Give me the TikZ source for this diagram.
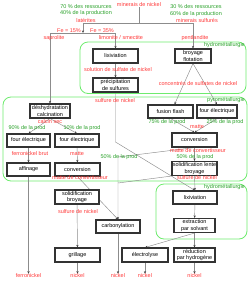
\documentclass[tikz,border=0pt]{standalone}
\usepackage{fontspec}
\setmainfont{Liberation Sans}
\usetikzlibrary{arrows.meta}
\definecolor{lred}{RGB}{255,55,55}
\definecolor{lgreen}{RGB}{40,160,40}
\definecolor{bgreen}{RGB}{110,235,110}
\definecolor{cgray}{RGB}{140,140,140}
\pgfdeclarelayer{background}
\pgfsetlayers{background,main}
\begin{document}
\begin{tikzpicture}[x=1pt,y=-1pt,
  every node/.style={font=\fontsize{5.5}{6.8}\selectfont, inner sep=0pt},
  box/.style={draw=black!80, line width=1.1pt, fill=white, align=center, minimum height=13pt},
  rl/.style={text=lred},
  gl/.style={text=lgreen},
  conn/.style={draw=cgray, line width=0.45pt},
  arr/.style={conn, -{Stealth[length=2.6pt,width=2.2pt,color=black!75]}},
  zone/.style={draw=bgreen, line width=0.8pt, rounded corners=8pt}]
\useasboundingbox (0,0) rectangle (250,282);

% top texts
\node[rl] (mn) at (139,5) {minerais de nickel};
\node[gl] (g70) at (86,6.5) {70 \% des ressources};
\node[gl] (g40) at (86,13.5) {40\% de la production};
\node[rl] (lat) at (86,20) {latérites};
\node[gl] (g30) at (196,7) {30 \% des ressources};
\node[gl] (g60) at (196,14) {60\% de la production};
\node[rl] (ms) at (197,20.5) {minerais sulfurés};
\node[rl] (fe15) at (69,30.5) {Fe = 15\%};
\node[rl] (fe35) at (102,30.5) {Fe = 35\%};
\node[rl] (sap) at (54,38) {saprolite};
\node[rl] (lim) at (121,38) {limonite / smectite};
\node[rl] (pen) at (195,38) {pentlandite};

% zone labels
\node[gl, anchor=east] (zh1) at (245,45.5) {hydrométallurgie};
\node[gl, anchor=east] (zp) at (245,100.5) {pyrométallurgie};
\node[gl, anchor=east] (zh2) at (245,187) {hydrométallurgie};

% boxes
\node[box, minimum width=45pt, minimum height=14pt] (lix1) at (115.5,56) {lixiviation};
\node[box, minimum width=36pt, minimum height=14pt] (broy) at (193,56) {broyage\\flotation};
\node[box, minimum width=45pt, minimum height=14pt] (prec) at (115.5,85) {précipitation\\de sulfures};
\node[box, minimum width=40pt, minimum height=14pt] (desh) at (50,111) {déshydratation\\calcination};
\node[box, minimum width=43pt] (f1) at (28.5,140.5) {four électrique};
\node[box, minimum width=44pt] (f2) at (77,140.5) {four électrique};
\node[box, minimum width=43pt] (aff) at (28.5,169.5) {affinage};
\node[box, minimum width=45pt] (cvL) at (77.5,169.5) {conversion};
\node[box, minimum width=45pt] (ff) at (170.5,111.5) {fusion flash};
\node[box, minimum width=40pt] (f3) at (217,111.5) {four électrique};
\node[box, minimum width=45pt, minimum height=14pt] (cvR) at (194.5,140) {conversion};
\node[box, minimum width=45pt, minimum height=14pt] (sl) at (194.5,168.5) {solidification lente\\broyage};
\node[box, minimum width=44pt, minimum height=14pt] (sol) at (77,197) {solidification\\broyage};
\node[box, minimum width=44pt] (carb) at (118,226.5) {carbonylation};
\node[box, minimum width=44pt] (lix2) at (195,197.5) {lixiviation};
\node[box, minimum width=41pt, minimum height=14pt] (ext) at (194.5,225.5) {extraction\\par solvant};
\node[box, minimum width=45pt, minimum height=14pt] (gril) at (77.5,255) {grillage};
\node[box, minimum width=46pt, minimum height=14pt] (elec) at (145,255) {électrolyse};
\node[box, minimum width=41pt, minimum height=14pt] (red) at (194.5,255) {réduction\\par hydrogène};

% labels on flows
\node[rl] (l1) at (118,70) {solution de sulfate de nickel};
\node[rl] (l2) at (198,83) {concentrés de sulfates de nickel};
\node[rl] (l3) at (115,101) {sulfure de nickel};
\node[rl] (l4) at (50,122) {calcin sec};
\node[gl] (p90) at (27,128) {90\% de la prod};
\node[gl] (p10) at (82,128) {10\% de la prod};
\node[rl] (l5) at (30,154) {ferronickel brut};
\node[rl] (l6) at (77,154) {matte};
\node[rl] (l7) at (80,178) {matte de convertisseur};
\node[gl] (p75) at (167,122) {75\% de la prod};
\node[gl] (p25) at (225,122) {25\% de la prod};
\node[rl] (l8) at (197,127) {matte};
\node[rl] (l9) at (198,151) {matte de convertisseur};
\node[gl] (p50a) at (195,157.5) {50\% de la prod};
\node[gl] (p50b) at (119,157.5) {50\% de la prod};
\node[rl] (l10) at (197,178) {sulfure de nickel};
\node[rl] (l11) at (78,212) {sulfure de nickel};

% outputs
\node[rl] (o1) at (28.5,276) {ferronickel};
\node[rl] (o2) at (77.5,276) {nickel};
\node[rl] (o3) at (118,276) {nickel};
\node[rl] (o4) at (145,276) {nickel};
\node[rl] (o5) at (194.5,276) {nickel};

% junctions
\coordinate (jT) at (139,23);
\coordinate (jL) at (83,23);
\coordinate (jR) at (193,23);
\coordinate (jL2) at (83,33);
\coordinate (jA) at (50,33);
\coordinate (jB) at (115.5,33);
\coordinate (pk) at (115.5,142);
\coordinate (ck) at (118,157);
\coordinate (ck2) at (118,183);

\begin{pgfonlayer}{background}
\draw[zone] (80,42) rectangle (246,93.5);
\draw[zone] (3,97) rectangle (247,181);
\draw[zone] (156,184) rectangle (247,239);

\draw[conn] (mn.south) -- (jT);
\draw[conn] (jL) -- (jR);
\draw[arr] (jL) -- (jL2);
\draw[conn] (jA) -- (jB);
\draw[arr] (jA) -- (desh.north);
\draw[arr] (jB) -- (lix1.north);
\draw[arr] (jR) -- (broy.north);
\draw[arr] (lix1) -- (prec);
\draw[arr] (prec.south) -- (pk) -- (lix2.north);
\draw[arr] (broy.south) -- ([xshift=4pt]ff.north);
\draw[arr] (broy.south) -- (f3.north);
\draw[arr] (desh.south) -- (f1.north);
\draw[arr] (desh.south) -- (f2.north);
\draw[arr] (f1) -- (aff);
\draw[arr] (f2) -- (cvL);
\draw[arr] (aff.south) -- (o1.north);
\draw[arr] (cvL.south) -- (carb.north);
\draw[arr] (ff.south) -- (cvR.north);
\draw[arr] (f3.south) -- (cvR.north);
\draw[arr] (cvR) -- (sl);
\draw[arr] (cvR.south) -- (ck) -- (carb.north);
\draw[conn] (sl.south west) -- (ck2);
\draw[arr] (sl) -- (lix2);
\draw[arr] (sol) -- (gril);
\draw[arr] (gril) -- (o2);
\draw[arr] (carb) -- (o3);
\draw[arr] (elec) -- (o4);
\draw[arr] (red) -- (o5);
\draw[arr] (lix2) -- (ext);
\draw[arr] (ext) -- (red);
\draw[arr] (ext.south) -- (elec.north);
\end{pgfonlayer}
\end{tikzpicture}
\end{document}
